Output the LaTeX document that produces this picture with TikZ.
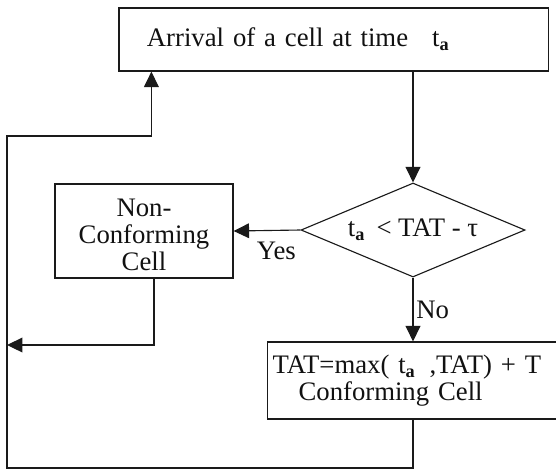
\documentclass[tikz,border=0pt]{standalone}
\usepackage{fontspec}
\setmainfont{Liberation Serif}
\usetikzlibrary{shapes.geometric, arrows.meta, positioning}
\definecolor{linedark}{HTML}{1A1A1A}
\definecolor{textdark}{HTML}{111111}
\newcommand{\tsub}[1]{\raisebox{-0.32ex}{\fontsize{13}{13}\selectfont\bfseries #1}}

\begin{document}
\begin{tikzpicture}[
  x=0.025cm, y=-0.025cm,
  font=\fontsize{19}{19.2}\selectfont,
  >={Triangle[length=11pt, width=10.5pt]},
  every node/.style={text=textdark},
  procbox/.style={
    rectangle, draw=linedark, line width=0.8pt,
    inner sep=0pt
  },
  testbox/.style={
    diamond, draw=linedark, line width=0.8pt,
    aspect=2.38, minimum width=5.6cm, minimum height=2.35cm,
    inner sep=0pt
  },
  arrowlabel/.style={
    inner sep=2pt
  },
  connector/.style={
    ->, line width=0.8pt, color=linedark
  }
]

\useasboundingbox (0,0) rectangle (556,470);
\clip (0,0) rectangle (556,470);

% ── Boxes ─────────────────────────────────────────────────────────────────
\node[procbox,
      minimum width=10.725cm, minimum height=1.575cm,
      inner xsep=0.7cm, text width=9.325cm, align=left]
  (arrival) at (333.5, 39.5)
  {Arrival of a cell at time\hspace{0.9em}t\tsub{a}};

\node[testbox] (decision) at (413, 230)
  {t\tsub{a}\hspace{0.45em}< TAT - τ};

\node[procbox,
      minimum width=4.45cm, minimum height=2.35cm, align=center]
  (noncon) at (144, 231)
  {\rule{0pt}{18.5pt}Non-\\Conforming\\Cell};

\node[procbox, anchor=west,
      minimum width=7.5cm, minimum height=1.925cm,
      inner xsep=0.125cm, text width=7.25cm, align=left]
  (tat) at (267, 380.5)
  {TAT=max( t\tsub{a}\hspace{0.55em},TAT) + T\\
   \hspace*{0.65cm}Conforming Cell};

% ── Loop points on the left ───────────────────────────────────────────────
\coordinate (nc_join) at (7, 345);
\coordinate (loop_bl) at (7, 468);
\coordinate (loop_tl) at (7, 136);

% ── Arrows ────────────────────────────────────────────────────────────────
\draw[connector] (arrival.south -| decision.north) -- (decision.north);

\draw[connector] (decision.west) -- (noncon.east)
  node[arrowlabel, pos=0.36, below=6pt] (yes) {Yes};

\draw[connector] (decision.south) -- (decision.south |- tat.north)
  node[arrowlabel, midway, right] (no) {No};

\draw[connector] ([xshift=0.25cm]noncon.south) |- (nc_join);

\draw[connector] (tat.south -| decision.south) |- (loop_bl)
  -- (loop_tl) -| ([xshift=0.825cm]arrival.south west);

\end{tikzpicture}
\end{document}
